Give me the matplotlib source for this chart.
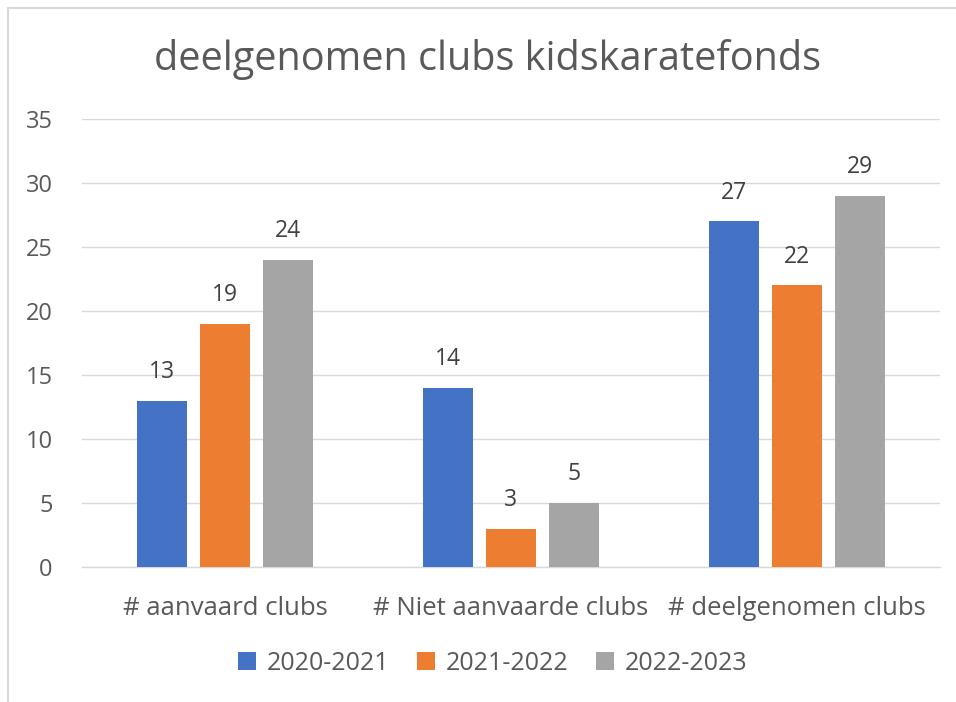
import numpy as np
import matplotlib
matplotlib.use("Agg")
import matplotlib.pyplot as plt
from matplotlib.patches import Rectangle

plt.rcParams["font.family"] = ["Open Sans", "DejaVu Sans"]

categories = ["# aanvaard clubs", "# Niet aanvaarde clubs", "# deelgenomen clubs"]
seasons = ["2020-2021", "2021-2022", "2022-2023"]
values_2020 = [13, 14, 27]
values_2021 = [19, 3, 22]
values_2022 = [24, 5, 29]
colors = ["#4472C4", "#ED7D31", "#A5A5A5"]

fig = plt.figure(figsize=(9.56, 7.02), dpi=100)
ax = fig.add_axes([0.0858, 0.1923, 0.8972, 0.6382])

# chart border (light gray, left and top visible)
fig.patches.append(Rectangle((8 / 956, -0.1), 1.2, 1.1 - 8 / 702,
                             transform=fig.transFigure, fill=False,
                             edgecolor="#D9D9D9", linewidth=1.5))

x = np.arange(len(categories))
width = 0.175
step = 0.22
text_col = "#595959"

for i, (vals, lab, col) in enumerate(zip([values_2020, values_2021, values_2022], seasons, colors)):
    pos = x + (i - 1) * step
    bars = ax.bar(pos, vals, width=width, color=col, label=lab, zorder=3)
    for b, v in zip(bars, vals):
        ax.text(b.get_x() + b.get_width() / 2, v + 1.3, str(v), ha="center",
                va="bottom", fontsize=16.5, color="#404040")

ax.set_xlim(-0.5, 2.5)
ax.set_ylim(0, 35)
ax.set_yticks(range(0, 36, 5))
ax.yaxis.grid(True, color="#D9D9D9", linewidth=1, zorder=0)
ax.set_axisbelow(True)
for s in ["top", "right", "left"]:
    ax.spines[s].set_visible(False)
ax.spines["bottom"].set_color("#D9D9D9")
ax.spines["bottom"].set_linewidth(1)
ax.tick_params(axis="y", length=0, labelsize=17, labelcolor=text_col, pad=21)
ax.tick_params(axis="x", length=0, labelsize=18.5, labelcolor=text_col, pad=21)
ax.set_xticks(x)
ax.set_xticklabels(categories)

fig.text(0.51, 0.915, "deelgenomen clubs kidskaratefonds", ha="center", va="center",
         fontsize=28.5, color=text_col)

fig.legend(loc="center", bbox_to_anchor=(0.515, 0.055), ncol=3, frameon=False,
           fontsize=18, handlelength=0.75, handleheight=0.75, columnspacing=1.1,
           handletextpad=0.4, labelcolor=text_col)

fig.savefig("out.png", dpi=100)
